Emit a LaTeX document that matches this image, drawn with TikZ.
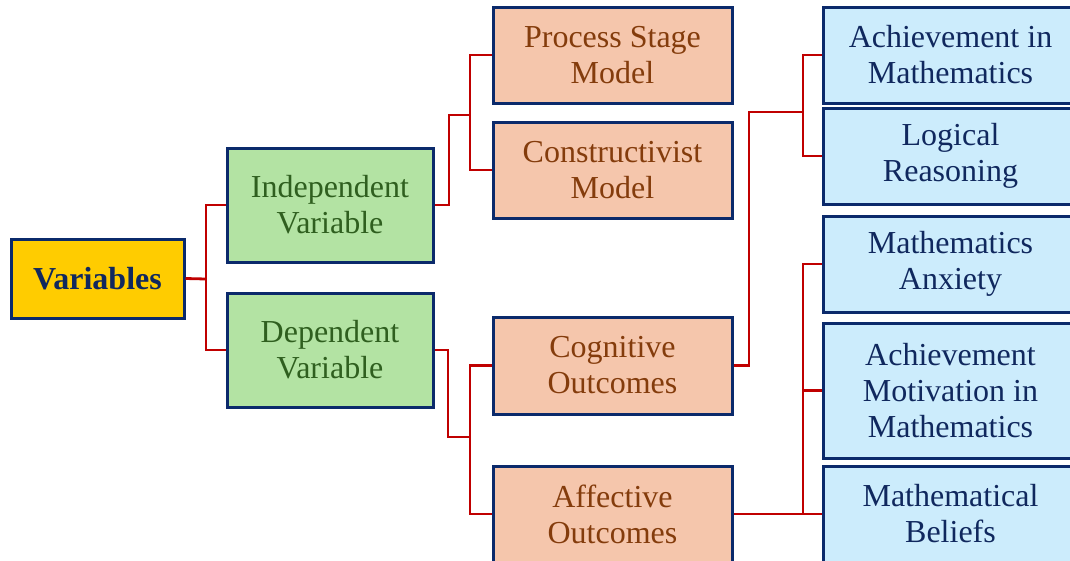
\documentclass[tikz,border=0pt]{standalone}
\usepackage{fontspec}
\setmainfont{Liberation Serif}
\definecolor{navy}{HTML}{0B2A6B}
\definecolor{gold}{HTML}{FFCC00}
\definecolor{leaf}{HTML}{B3E3A3}
\definecolor{leaftext}{HTML}{2F5F1F}
\definecolor{peach}{HTML}{F5C6AC}
\definecolor{rust}{HTML}{843C0C}
\definecolor{sky}{HTML}{CCECFC}
\definecolor{ink}{HTML}{10285E}
\definecolor{wire}{HTML}{C00000}
\tikzset{
  box/.style={draw=navy, line width=3pt, rectangle, align=center, inner sep=0pt,
    font=\fontsize{32}{36}\selectfont},
  rootbox/.style={box, fill=gold, text=ink, font=\fontsize{32}{36}\selectfont\bfseries},
  kindbox/.style={box, fill=leaf, text=leaftext, minimum width=206pt, minimum height=114pt},
  midbox/.style={box, fill=peach, text=rust, minimum width=239pt, minimum height=96pt},
  leafbox/.style={box, fill=sky, text=ink, minimum width=255pt, minimum height=96pt},
  link/.style={draw=wire, line width=2.8pt}
}
\begin{document}
\begin{tikzpicture}[x=1pt,y=-1pt]
\useasboundingbox (0,0) rectangle (1070,560);
\clip (0,0) rectangle (1070,560);
\fill[white] (0,0) rectangle (1070,560);

% root
\node[rootbox, minimum width=173pt, minimum height=79pt] (var) at (97.5,278.5) {Variables};

% second level
\node[kindbox] (ind) at (330,205) {Independent\\Variable};
\node[kindbox] (dep) at (330,350) {Dependent\\Variable};

% third level
\node[midbox] (proc) at (612.5,55) {Process Stage\\Model};
\node[midbox] (con) at (612.5,170) {Constructivist\\Model};
\node[midbox, minimum height=97pt] (cog) at (612.5,365.5) {Cognitive\\Outcomes};
\node[midbox] (aff) at (612.5,514) {Affective\\Outcomes};

% outcomes
\node[leafbox] (ach) at (950.5,55) {Achievement in\\Mathematics};
\node[leafbox] (log) at (950.5,156) {Logical\\Reasoning};
\node[leafbox] (anx) at (950.5,264) {Mathematics\\Anxiety};
\node[leafbox, minimum height=135pt] (mot) at (950.5,390.5) {Achievement\\Motivation in\\Mathematics};
\node[leafbox] (bel) at (950.5,514) {Mathematical\\Beliefs};

% junction points
\coordinate (v1) at (206,279);
\coordinate (a1) at (449,115);
\coordinate (a2) at (470,115);
\coordinate (b1) at (448,437);
\coordinate (b2) at (470,437);
\coordinate (c1) at (749,112);
\coordinate (c2) at (803,112);
\coordinate (d1) at (803,514);

% connectors
\draw[link] (var.east) -- (v1);
\draw[link] (ind.west) -| (v1) |- (dep.west);

\draw[link] (ind.east) -| (a1) -- (a2);
\draw[link] (proc.west) -| (a2) |- (con.west);

\draw[link] (dep.east) -| (b1) -- (b2);
\draw[link] (cog.west) -| (b2) |- (aff.west);

\draw[link] (cog.east) -| (c1) -- (c2);
\draw[link] (ach.west) -| (c2) |- (log.west);

\draw[link] (aff.east) -- (d1);
\draw[link] (anx.west) -| (d1) |- (bel.west);
\draw[link] (mot.west) -- (mot.west -| d1);
\end{tikzpicture}
\end{document}
